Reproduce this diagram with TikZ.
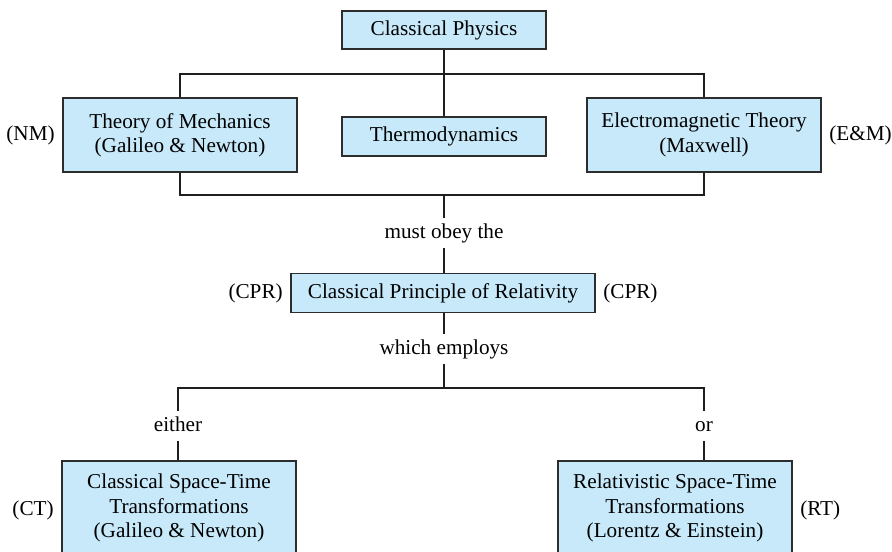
\documentclass[tikz,border=0pt]{standalone}
\usepackage{fontspec}
\setmainfont{Liberation Serif}
\usepackage{tikz}
\usetikzlibrary{positioning}
\definecolor{boxblue}{RGB}{199,233,249}
\definecolor{boxline}{RGB}{45,45,45}

\begin{document}
\begin{tikzpicture}[
  x=0.5pt, y=-0.5pt,
  box/.style={rectangle, draw=boxline, line width=0.9pt, fill=boxblue,
              align=center, font=\fontsize{10.6}{12.2}\selectfont, inner sep=0pt},
  tag/.style={font=\fontsize{10.6}{12.2}\selectfont, inner sep=1.5pt},
  word/.style={font=\fontsize{10.6}{12.2}\selectfont, inner sep=2.5pt,
               text height=1.6ex, text depth=0.5ex},
  link/.style={line width=1.4pt, draw=black!88},
  node distance=2pt
]
  \useasboundingbox (0,0) rectangle (892,551);

  \node[box, minimum width=102pt, minimum height=19pt] (phys) at (444,30) {Classical Physics};
  \node[box, minimum width=117pt, minimum height=37pt] (mech) at (180,135) {Theory of Mechanics\\(Galileo \& Newton)};
  \node[box, minimum width=102pt, minimum height=19.5pt] (thermo) at (444,136.5) {Thermodynamics};
  \node[box, minimum width=117pt, minimum height=37pt] (em) at (704,135) {Electromagnetic Theory\\(Maxwell)};
  \node[box, minimum width=152pt, minimum height=19.5pt] (cpr) at (443,293) {Classical Principle of Relativity};
  \node[box, minimum width=117pt, minimum height=47pt] (ct) at (179,508) {Classical Space-Time\\Transformations\\(Galileo \& Newton)};
  \node[box, minimum width=117pt, minimum height=47pt] (rt) at (675,508) {Relativistic Space-Time\\Transformations\\(Lorentz \& Einstein)};

  % side labels
  \node[tag, left=of mech] (nm) {(NM)};
  \node[tag, right=of em] (emt) {(E\&M)};
  \node[tag, left=of cpr] (cprl) {(CPR)};
  \node[tag, right=of cpr] (cprr) {(CPR)};
  \node[tag, left=of ct, yshift=-1pt] (ctt) {(CT)};
  \node[tag, right=of rt, yshift=-1pt] (rtt) {(RT)};

  % words on the lines
  \node[word] (obey) at (444,233) {must obey the};
  \node[word] (employs) at (444,349) {which employs};
  \node[word] (either) at (178,426) {either};
  \node[word] (or) at (704,426) {or};

  \coordinate (topbar) at (444,74);
  \coordinate (botbar) at (444,195);
  \coordinate (lowbar) at (444,388);

  \draw[link] (phys.south) -- (topbar);
  \draw[link] (mech.north) |- (topbar) -| (em.north);
  \draw[link] (thermo.north) -- (topbar);
  \draw[link] (mech.south) |- (botbar) -| (em.south);
  \draw[link] (botbar) -- (obey.north);
  \draw[link] (obey.south) -- (obey.south |- cpr.north);
  \draw[link] (cpr.south -| employs.north) -- (employs.north);
  \draw[link] (employs.south) -- (lowbar);
  \draw[link] (either.north) |- (lowbar) -| (or.north);
  \draw[link] (either.south) -- (either.south |- ct.north);
  \draw[link] (or.south) -- (or.south |- rt.north);
\end{tikzpicture}
\end{document}
